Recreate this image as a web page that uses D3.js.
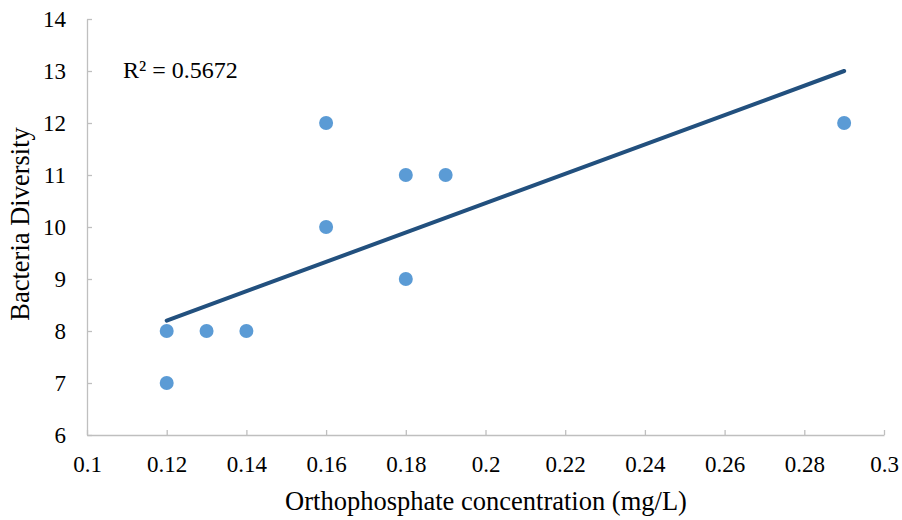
<!DOCTYPE html>
<html>
<head>
  <meta charset="utf-8">
  <script src="https://cdn.jsdelivr.net/npm/d3@7"></script>
  <style>
    body { margin: 0; background: #fff; }
    svg text { font-family: 'Liberation Serif', 'Times New Roman', serif; fill: #000; }
  </style>
</head>
<body>
  <svg id="chart" width="902" height="520"></svg>
  <script>
    // phosphate (mg/L) vs diversity
    let phosphate = [0.12, 0.12, 0.13, 0.14, 0.16, 0.16, 0.18, 0.18, 0.19, 0.29]
    let diversity = [8, 7, 8, 8, 12, 10, 11, 9, 11, 12]
    let trendX = [0.12, 0.29]
    let trendY = [8.2, 13.0]
    let xTicks = [0.1, 0.12, 0.14, 0.16, 0.18, 0.2, 0.22, 0.24, 0.26, 0.28, 0.3]
    let yTicks = [6, 7, 8, 9, 10, 11, 12, 13, 14]
    let r2Label = "R² = 0.5672"

    let svg = d3.select("#chart")

    let scX = d3.scaleLinear().domain([0.1, 0.3]).range([87, 884])
    let scY = d3.scaleLinear().domain([6, 14]).range([435, 19])

    let xAxis = svg.append("g")
      .attr("transform", "translate(0,435)")
      .call(d3.axisBottom(scX).tickValues(xTicks).tickSize(-5).tickSizeOuter(0)
        .tickFormat(d => String(+d.toFixed(2))))
    xAxis.attr("font-size", 23).attr("font-family", null)
    xAxis.select(".domain").attr("stroke", "#bfbfbf").attr("stroke-width", 1.3)
    xAxis.selectAll(".tick line").attr("stroke", "#bfbfbf").attr("stroke-width", 1.3)
    xAxis.selectAll(".tick text").attr("y", 37).attr("dy", 0)

    let yAxis = svg.append("g")
      .attr("transform", "translate(87,0)")
      .call(d3.axisLeft(scY).tickValues(yTicks).tickSize(-5).tickSizeOuter(0))
    yAxis.attr("font-size", 23).attr("font-family", null)
    yAxis.select(".domain").attr("stroke", "#bfbfbf").attr("stroke-width", 1.3)
    yAxis.selectAll(".tick line").attr("stroke", "#bfbfbf").attr("stroke-width", 1.3)
    yAxis.selectAll(".tick text").attr("x", -21)

    svg.append("line")
      .attr("x1", scX(trendX[0])).attr("y1", scY(trendY[0]))
      .attr("x2", scX(trendX[1])).attr("y2", scY(trendY[1]))
      .attr("stroke", "#22507e")
      .attr("stroke-width", 4)
      .attr("stroke-linecap", "round")

    svg.selectAll("circle")
      .data(phosphate.map((p, i) => [p, diversity[i]]))
      .enter()
      .append("circle")
      .attr("cx", d => scX(d[0]))
      .attr("cy", d => scY(d[1]))
      .attr("r", 7)
      .attr("fill", "#5b9bd5")

    svg.append("text")
      .attr("x", 123).attr("y", 78)
      .attr("font-size", 24)
      .text(r2Label)

    svg.append("text")
      .attr("x", 486).attr("y", 510)
      .attr("text-anchor", "middle")
      .attr("font-size", 26.5)
      .text("Orthophosphate concentration (mg/L)")

    svg.append("text")
      .attr("transform", "translate(29,224) rotate(-90)")
      .attr("text-anchor", "middle")
      .attr("font-size", 26.5)
      .text("Bacteria Diversity")
  </script>
</body>
</html>
